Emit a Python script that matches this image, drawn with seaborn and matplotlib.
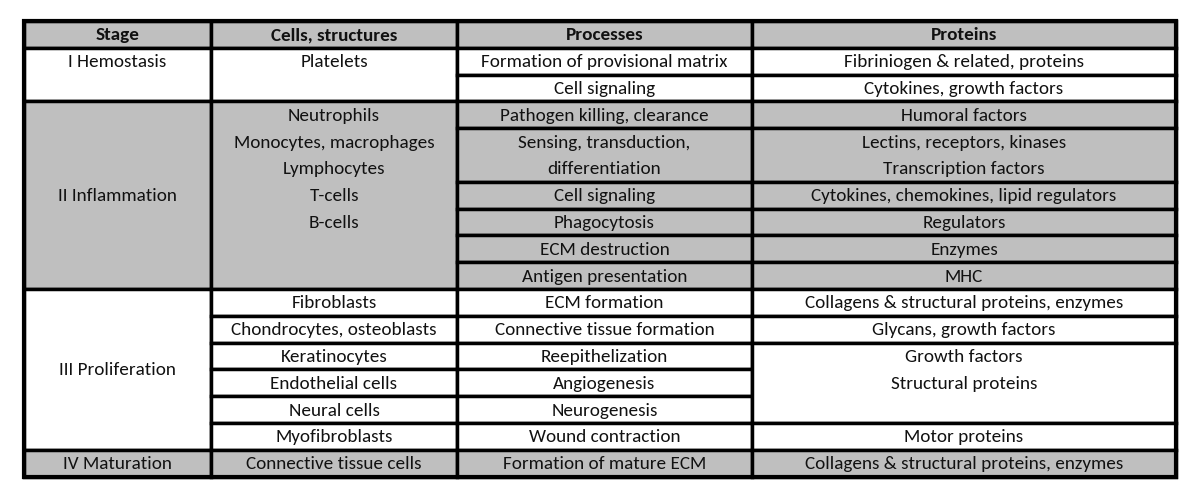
import matplotlib
matplotlib.use("Agg")
import matplotlib.pyplot as plt
from matplotlib.patches import Rectangle
import seaborn as sns

# table content
header = ["Stage", "Cells, structures", "Processes", "Proteins"]

stages = [["I Hemostasis"], ["II Inflammation"], ["III Proliferation"], ["IV Maturation"]]
stage_rows = [2, 7, 6, 1]
stage_align = ["top", "center", "center", "center"]

cells = [
    ["Platelets"],
    ["Neutrophils", "Monocytes, macrophages", "Lymphocytes", "T-cells", "B-cells"],
    ["Fibroblasts"],
    ["Chondrocytes, osteoblasts"],
    ["Keratinocytes"],
    ["Endothelial cells"],
    ["Neural cells"],
    ["Myofibroblasts"],
    ["Connective tissue cells"],
]
cell_rows = [2, 7, 1, 1, 1, 1, 1, 1, 1]

processes = [
    ["Formation of provisional matrix"],
    ["Cell signaling"],
    ["Pathogen killing, clearance"],
    ["Sensing, transduction,", "differentiation"],
    ["Cell signaling"],
    ["Phagocytosis"],
    ["ECM destruction"],
    ["Antigen presentation"],
    ["ECM formation"],
    ["Connective tissue formation"],
    ["Reepithelization"],
    ["Angiogenesis"],
    ["Neurogenesis"],
    ["Wound contraction"],
    ["Formation of mature ECM"],
]
process_rows = [1, 1, 1, 2, 1, 1, 1, 1, 1, 1, 1, 1, 1, 1, 1]

proteins = [
    ["Fibriniogen & related, proteins"],
    ["Cytokines, growth factors"],
    ["Humoral factors"],
    ["Lectins, receptors, kinases", "Transcription factors"],
    ["Cytokines, chemokines, lipid regulators"],
    ["Regulators"],
    ["Enzymes"],
    ["MHC"],
    ["Collagens & structural proteins, enzymes"],
    ["Glycans, growth factors"],
    ["Growth factors", "Structural proteins"],
    ["Motor proteins"],
    ["Collagens & structural proteins, enzymes"],
]
protein_rows = [1, 1, 1, 2, 1, 1, 1, 1, 1, 1, 3, 1, 1]

# layout (pixels)
col_edges = [24, 211, 457, 752, 1176]
top = 22
unit = 26.8
gray = "#bfbfbf"
stage_fill = ["white", gray, "white", gray]
lw = 2.5
fs = 13.8

sns.set_theme(style="white")
plt.rcParams["font.family"] = ["Carlito", "DejaVu Sans"]


def fill_for_row(r):
    # which stage a body row (0-based) belongs to
    acc = 0
    for i, n in enumerate(stage_rows):
        acc += n
        if r < acc:
            return stage_fill[i]
    return "white"


def draw_cell(ax, col, r, span, lines, fill, align="top", bold=False):
    x0, x1 = col_edges[col], col_edges[col + 1]
    y0 = top + r * unit
    h = span * unit
    ax.add_patch(Rectangle((x0, y0), x1 - x0, h, facecolor=fill,
                           edgecolor="black", linewidth=lw, zorder=1))
    n = len(lines)
    for i, line in enumerate(lines):
        if align == "top":
            y = y0 + (i + 0.5) * unit
        else:
            y = y0 + h / 2 + (i - (n - 1) / 2) * unit
        ax.text((x0 + x1) / 2, y, line, ha="center", va="center",
                fontsize=fs, fontweight="bold" if bold else "normal",
                color="#111111", zorder=3)


def draw_column(ax, col, items, spans, aligns=None):
    r = 0
    for k, (lines, span) in enumerate(zip(items, spans)):
        al = aligns[k] if aligns else "top"
        draw_cell(ax, col, r + 1, span, lines, fill_for_row(r), align=al)
        r += span


fig = plt.figure(figsize=(12, 5.02), dpi=100)
ax = fig.add_axes([0, 0, 1, 1])
ax.set_xlim(0, 1200)
ax.set_ylim(502, 0)
ax.axis("off")

for c, name in enumerate(header):
    draw_cell(ax, c, 0, 1, [name], gray, bold=True)

draw_column(ax, 0, stages, stage_rows, stage_align)
draw_column(ax, 1, cells, cell_rows)
draw_column(ax, 2, processes, process_rows)
draw_column(ax, 3, proteins, protein_rows)

# outer frame
total = 1 + sum(stage_rows)
ax.add_patch(Rectangle((col_edges[0], top), col_edges[-1] - col_edges[0], total * unit,
                       facecolor="none", edgecolor="black", linewidth=lw * 1.2, zorder=4))

plt.savefig("out.png", dpi=100)
